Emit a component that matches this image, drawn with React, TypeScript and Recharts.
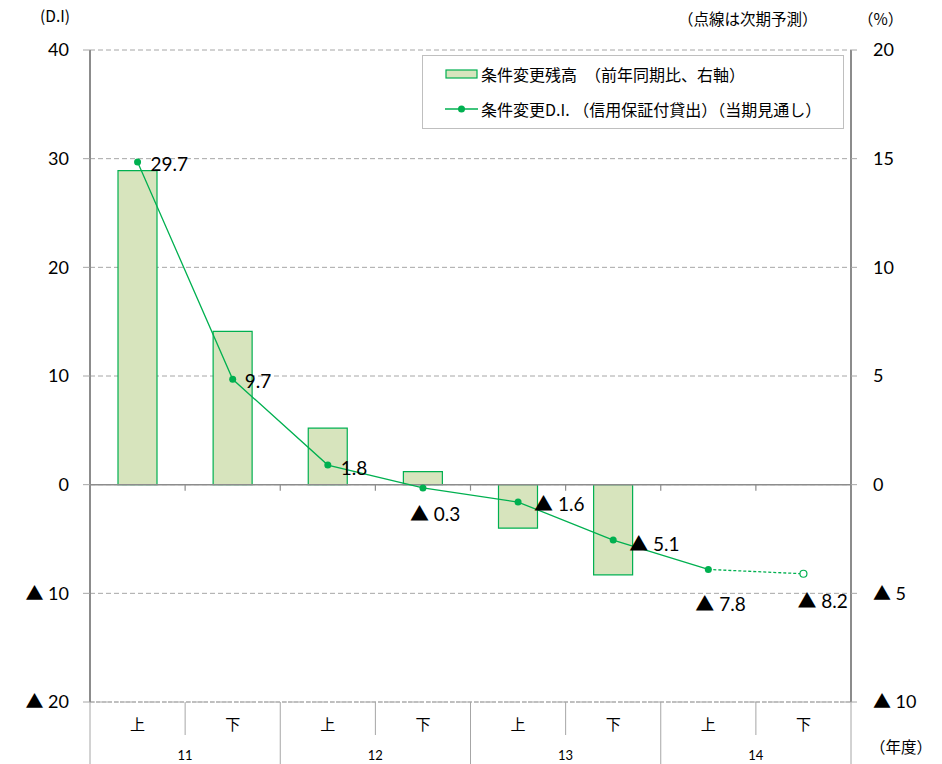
import {
  ComposedChart,
  Bar,
  Line,
  XAxis,
  YAxis,
  CartesianGrid,
  ReferenceLine,
  LabelList,
} from 'recharts'

// 年度・上下期
const halves = ['上', '下', '上', '下', '上', '下', '上', '下']
const fiscalYears = ['11', '12', '13', '14']

// 条件変更残高（前年同期比、右軸, %）
const balanceYoY = [14.45, 7.05, 2.6, 0.6, -2.0, -4.15, null, null]
// 条件変更D.I.（実績・見通し）
const diActual = [29.7, 9.7, 1.8, -0.3, -1.6, -5.1, -7.8, null]
// 次期予測（点線）
const diForecast = [null, null, null, null, null, null, -7.8, -8.2]

const leftTicks = [-20, -10, 0, 10, 20, 30, 40]
const rightTicks = [-10, -5, 0, 5, 10, 15, 20]

const GREEN = '#00b050'
const BAR_FILL = '#d7e4bd'
const AXIS_GRAY = '#8c8c8c'
const GRID_GRAY = '#a6a6a6'
const FONT = "Lato, 'Noto Sans CJK JP', sans-serif"
const JP_FONT = "'Noto Sans CJK JP', sans-serif"

const W = 942
const H = 764
const LEFT_W = 90
const RIGHT_W = 91
const BAND = (W - LEFT_W - RIGHT_W) / halves.length

const data = halves.map((h, i) => ({
  id: `${fiscalYears[Math.floor(i / 2)]}-${h}-${i}`,
  half: h,
  year: fiscalYears[Math.floor(i / 2)],
  balance: balanceYoY[i],
  actual: diActual[i],
  forecast: diForecast[i],
}))

// label placement relative to the point
const LABEL_PLACE = [
  { dx: 13, dy: 2 },
  { dx: 12, dy: 1 },
  { dx: 13, dy: 2 },
  { dx: -13, dy: 26 },
  { dx: 16, dy: 1 },
  { dx: 16, dy: 3 },
  { dx: -13, dy: 34 },
  { dx: -6, dy: 27 },
]

const fmt = (v: number) =>
  v < 0 ? `▲ ${Math.abs(v)}` : `${v}`

const fmtLabel = (v: number) =>
  v < 0 ? `▲ ${Math.abs(v).toFixed(1)}` : v.toFixed(1)

function PointLabel(props: any) {
  const { x, y, value, index } = props
  if (value == null || x == null || y == null) return null
  const p = LABEL_PLACE[index] ?? { dx: 10, dy: 0 }
  return (
    <text
      x={x + p.dx}
      y={y + p.dy}
      textAnchor="start"
      dominantBaseline="central"
      fontSize={19}
      fontFamily={FONT}
      fill="#000"
    >
      {fmtLabel(Number(value))}
    </text>
  )
}

function ForecastLabel(props: any) {
  if (props.index !== halves.length - 1) return null
  return <PointLabel {...props} />
}

function ForecastDot(props: any) {
  const { cx, cy, index } = props
  if (index !== halves.length - 1 || cx == null || cy == null) return <g key={index} />
  return (
    <circle key={index} cx={cx} cy={cy} r={3.5} fill="#fff" stroke={GREEN} strokeWidth={1.2} />
  )
}

function CategoryTick(props: any) {
  const { x, y, index, payload } = props
  const i = index ?? 0
  const row = data[i] ?? { half: payload?.value, year: '' }
  const left = x - BAND / 2
  const right = x + BAND / 2
  const isFirst = i % 2 === 0
  return (
    <g>
      <line
        x1={left}
        x2={left}
        y1={y}
        y2={isFirst ? y + 62 : y + 33}
        stroke={GRID_GRAY}
        strokeWidth={1}
      />
      {i === halves.length - 1 && (
        <line x1={right} x2={right} y1={y} y2={y + 62} stroke={GRID_GRAY} strokeWidth={1} />
      )}
      <text
        x={x}
        y={y + 21}
        textAnchor="middle"
        dominantBaseline="central"
        fontSize={15}
        fontFamily={JP_FONT}
        fill="#000"
      >
        {row.half}
      </text>
      {isFirst && (
        <text
          x={right}
          y={y + 53}
          textAnchor="middle"
          dominantBaseline="central"
          fontSize={13}
          fontFamily={FONT}
          fill="#000"
        >
          {row.year}
        </text>
      )}
    </g>
  )
}

function ZeroLine(props: any) {
  const { x1, x2, y1 } = props
  if (x1 == null) return null
  const step = (x2 - x1) / halves.length
  return (
    <g>
      <line x1={x1} x2={x2} y1={y1} y2={y1} stroke={AXIS_GRAY} strokeWidth={1.5} />
      {halves.slice(1).map((_, k) => (
        <line
          key={k}
          x1={x1 + step * (k + 1)}
          x2={x1 + step * (k + 1)}
          y1={y1}
          y2={y1 + 6}
          stroke={AXIS_GRAY}
          strokeWidth={1.2}
        />
      ))}
    </g>
  )
}

const noteStyle = {
  position: 'absolute' as const,
  fontFamily: JP_FONT,
  fontSize: 15.5,
  color: '#000',
  whiteSpace: 'nowrap' as const,
  lineHeight: '20px',
}

export default function App() {
  return (
    <div style={{ position: 'absolute', left: 0, top: 0, width: W, height: H, background: '#fff' }}>
      <ComposedChart
        width={W}
        height={H}
        data={data}
        margin={{ top: 50, right: 0, bottom: 0, left: 0 }}
      >
        <CartesianGrid
          yAxisId="left"
          vertical={false}
          stroke={GRID_GRAY}
          strokeDasharray="5 3"
        />
        <XAxis
          dataKey="id"
          height={62}
          tickSize={0}
          tickMargin={0}
          tickLine={false}
          axisLine={{ stroke: '#bfbfbf', strokeWidth: 2, strokeDasharray: '4 2' }}
          tick={<CategoryTick />}
          interval={0}
        />
        <YAxis
          yAxisId="left"
          width={LEFT_W}
          domain={[-20, 40]}
          ticks={leftTicks}
          tickFormatter={fmt}
          axisLine={{ stroke: AXIS_GRAY, strokeWidth: 2 }}
          tickLine={{ stroke: GRID_GRAY }}
          tickSize={7}
          tickMargin={14}
          tick={{ fill: '#000', fontSize: 18, fontFamily: FONT }}
          allowDataOverflow
        />
        <YAxis
          yAxisId="right"
          orientation="right"
          width={RIGHT_W}
          domain={[-10, 20]}
          ticks={rightTicks}
          tickFormatter={fmt}
          axisLine={{ stroke: AXIS_GRAY, strokeWidth: 2 }}
          tickLine={{ stroke: GRID_GRAY }}
          tickSize={6}
          tickMargin={16}
          tick={{ fill: '#000', fontSize: 18, fontFamily: FONT }}
          allowDataOverflow
        />
        <ReferenceLine yAxisId="left" y={0} stroke={AXIS_GRAY} shape={<ZeroLine />} />
        <Bar
          yAxisId="right"
          dataKey="balance"
          name="条件変更残高　（前年同期比、右軸）"
          barSize={39}
          fill={BAR_FILL}
          stroke={GREEN}
          strokeWidth={1.2}
          isAnimationActive={false}
        />
        <Line
          yAxisId="left"
          dataKey="actual"
          name="条件変更D.I. （信用保証付貸出）（当期見通し）"
          stroke={GREEN}
          strokeWidth={1.3}
          dot={{ r: 3.5, fill: GREEN, stroke: GREEN, strokeWidth: 0 }}
          activeDot={false}
          isAnimationActive={false}
        >
          <LabelList dataKey="actual" content={<PointLabel />} />
        </Line>
        <Line
          yAxisId="left"
          dataKey="forecast"
          stroke={GREEN}
          strokeWidth={1.3}
          strokeDasharray="3 2"
          dot={<ForecastDot />}
          activeDot={false}
          isAnimationActive={false}
        >
          <LabelList dataKey="forecast" content={<ForecastLabel />} />
        </Line>
      </ComposedChart>

      <div style={{ ...noteStyle, left: 40, top: 5 }}>(D.I)</div>
      <div style={{ ...noteStyle, left: 678, top: 8 }}>（点線は次期予測）</div>
      <div style={{ ...noteStyle, left: 858, top: 8 }}>（%）</div>
      <div style={{ ...noteStyle, left: 870, top: 736 }}>（年度）</div>

      <div
        style={{
          position: 'absolute',
          left: 422,
          top: 55,
          width: 420,
          height: 72,
          border: '1px solid #bfbfbf',
          background: '#fff',
          fontFamily: JP_FONT,
          fontSize: 16,
          color: '#000',
        }}
      >
        <div style={{ position: 'absolute', left: 22, top: 7, display: 'flex', alignItems: 'center', whiteSpace: 'nowrap', lineHeight: '22px' }}>
          <svg width={34} height={10} style={{ marginRight: 2 }}>
            <rect x={1} y={1} width={31} height={8} fill={BAR_FILL} stroke={GREEN} strokeWidth={1.2} />
          </svg>
          条件変更残高　（前年同期比、右軸）
        </div>
        <div style={{ position: 'absolute', left: 22, top: 42, display: 'flex', alignItems: 'center', whiteSpace: 'nowrap', lineHeight: '22px' }}>
          <svg width={34} height={10} style={{ marginRight: 2 }}>
            <line x1={0} x2={33} y1={5} y2={5} stroke={GREEN} strokeWidth={1.3} />
            <circle cx={16.5} cy={5} r={3.5} fill={GREEN} />
          </svg>
          条件変更D.I. （信用保証付貸出）（当期見通し）
        </div>
      </div>
    </div>
  )
}
